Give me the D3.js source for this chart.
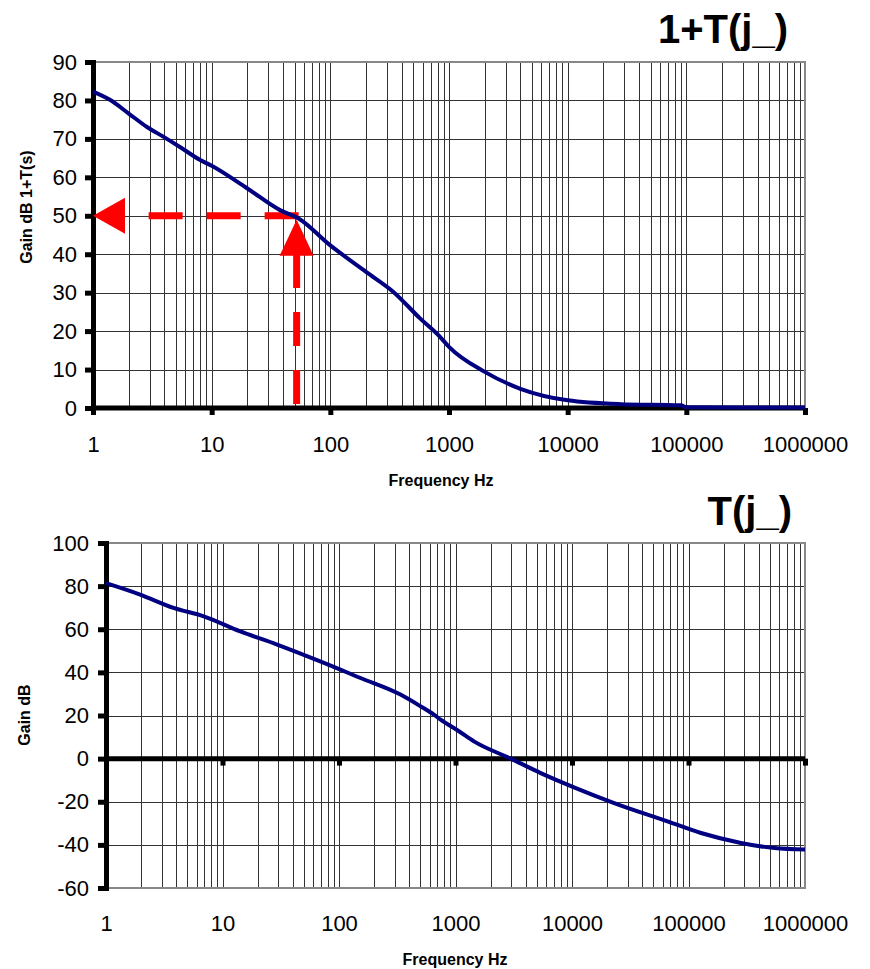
<!DOCTYPE html>
<html>
<head>
<meta charset="utf-8">
<script src="https://cdn.jsdelivr.net/npm/d3@7"></script>
<style>
  body { margin: 0; background: #fff; }
  text { font-family: "Liberation Sans", Arial, sans-serif; }
</style>
</head>
<body>
<svg id="chart" width="870" height="969"></svg>
<script>
"use strict";

// 1+T(s) closed loop gain
var topFreq = [1, 1.4, 2, 2.85, 4, 5.4, 8, 10, 20, 38, 54, 100, 200, 340, 570, 840, 1000, 2000, 4000, 10000, 28000, 90000, 100000, 1000000];
var topGain = [82.3, 80.1, 76.6, 73.1, 70.4, 67.9, 64.5, 63, 57.1, 51.4, 49.3, 42.3, 35.4, 30.2, 23.3, 18.5, 15.9, 9.4, 5.0, 2.0, 1.0, 0.7, 0.2, 0.1];

// T(s) loop gain
var botFreq = [1, 1.96, 3.8, 6.9, 14.2, 29.4, 69, 153, 337, 500, 652, 745, 1070, 1440, 2980, 5390, 10400, 23000, 66000, 128000, 282000, 547000, 1000000];
var botGain = [81.4, 76.1, 69.9, 66.0, 59.0, 52.9, 45.1, 37.4, 29.7, 24.3, 20.4, 18.1, 12.7, 8.0, 0, -6.7, -13.3, -20.6, -29.1, -34.5, -39.1, -41.5, -42.2];

var decades = [1, 10, 100, 1000, 10000, 100000, 1000000];
var decadeLabels = ["1", "10", "100", "1000", "10000", "100000", "1000000"];
var topYTicks = [0, 10, 20, 30, 40, 50, 60, 70, 80, 90];
var botYTicks = [-60, -40, -20, 0, 20, 40, 60, 80, 100];

// marker read on the top chart
var markerFreq = 52;
var markerGain = 50;

var FONT = "'Liberation Sans', Arial, sans-serif";
var svg = d3.select("#chart");

// every 1..9 x 10^n line for the log grid
var minorFreqs = [];
for (var n = 0; n < 6; n++) {
  for (var k = 1; k < 10; k++) {
    minorFreqs.push(k * Math.pow(10, n));
  }
}
minorFreqs.push(1000000);

function drawPanel(opt) {
  var x = d3.scaleLog().domain([1, 1000000]).range([opt.left, opt.right]);
  var y = d3.scaleLinear().domain(opt.yDomain).range([opt.bottom, opt.top]);
  var g = svg.append("g");

  // grid
  g.selectAll("line.vgrid").data(minorFreqs).enter().append("line")
    .attr("class", "vgrid")
    .attr("x1", function (d) { return Math.round(x(d)) + 0.5; })
    .attr("x2", function (d) { return Math.round(x(d)) + 0.5; })
    .attr("y1", opt.top).attr("y2", opt.bottom)
    .style("stroke", "#333").style("stroke-width", 1);
  g.selectAll("line.hgrid").data(opt.yTicks).enter().append("line")
    .attr("class", "hgrid")
    .attr("x1", opt.left).attr("x2", opt.right)
    .attr("y1", function (d) { return Math.round(y(d)) + 0.5; })
    .attr("y2", function (d) { return Math.round(y(d)) + 0.5; })
    .style("stroke", "#333").style("stroke-width", 1);

  // grey frame top / right / bottom
  g.append("path")
    .attr("d", "M" + opt.left + "," + opt.top + "H" + opt.right + "V" + opt.bottom + "H" + opt.left)
    .style("fill", "none").style("stroke", "#888").style("stroke-width", 2);

  // x tick marks on the zero line
  var xTicks = g.append("g")
    .attr("transform", "translate(0," + y(0) + ")")
    .call(d3.axisBottom(x).tickValues(decades).tickSize(7).tickFormat(""));
  xTicks.select(".domain").remove();
  xTicks.selectAll(".tick line").style("stroke", "#000").style("stroke-width", 5);

  // x labels
  var xLab = g.append("g")
    .attr("transform", "translate(0," + opt.xLabelY + ")")
    .call(d3.axisBottom(x).tickValues(decades).tickSize(0).tickPadding(0)
      .tickFormat(function (d, i) { return decadeLabels[i]; }));
  xLab.select(".domain").remove();
  xLab.selectAll("text")
    .attr("dy", 0)
    .style("font-family", FONT)
    .style("font-size", "22px").style("fill", "#000");

  // zero line
  g.append("line")
    .attr("x1", opt.left).attr("x2", opt.right)
    .attr("y1", y(0)).attr("y2", y(0))
    .style("stroke", "#000").style("stroke-width", 5);

  // y axis, hyphen minus like the original
  var yAx = g.append("g")
    .attr("transform", "translate(" + opt.left + ",0)")
    .call(d3.axisLeft(y).tickValues(opt.yTicks).tickSize(8).tickPadding(opt.yPad)
      .tickFormat(function (d) { return String(d); }));
  yAx.select(".domain").style("stroke", "#000").style("stroke-width", 5);
  yAx.selectAll(".tick line").style("stroke", "#000").style("stroke-width", 5);
  yAx.selectAll("text")
    .style("font-family", FONT)
    .style("font-size", "22px").style("fill", "#000");

  // axis titles
  g.append("text")
    .text("Frequency Hz")
    .attr("x", opt.xTitleX).attr("y", opt.xTitleY)
    .attr("text-anchor", "middle")
    .style("font-size", "16px").style("font-weight", 700);
  g.append("text")
    .text(opt.yTitle)
    .attr("transform", "translate(" + opt.yTitleX + "," + opt.yTitleY + ") rotate(-90)")
    .attr("text-anchor", "middle")
    .style("font-size", "16px").style("font-weight", 700);

  // big title
  g.append("text")
    .text(opt.title)
    .attr("x", opt.titleX).attr("y", opt.titleY)
    .attr("text-anchor", "end")
    .style("font-size", "40px").style("font-weight", 700);

  return { g: g, x: x, y: y };
}

function drawCurve(p, freq, gain) {
  var pts = freq.map(function (f, i) { return [f, gain[i]]; });
  var line = d3.line()
    .curve(d3.curveMonotoneX)
    .x(function (d) { return p.x(d[0]); })
    .y(function (d) { return p.y(d[1]); });
  p.g.append("path")
    .datum(pts)
    .attr("d", line)
    .style("fill", "none")
    .style("stroke", "#000080")
    .style("stroke-width", 4)
    .style("stroke-linejoin", "round");
}

var topPanel = drawPanel({
  left: 93, right: 805, top: 62, bottom: 408,
  yDomain: [0, 90], yTicks: topYTicks, yPad: 8,
  xLabelY: 452, xTitleX: 441, xTitleY: 486,
  yTitle: "Gain dB 1+T(s)", yTitleX: 32, yTitleY: 207,
  title: "1+T(j_)", titleX: 788, titleY: 43
});

// red read-off arrows
(function () {
  var mx = topPanel.x(markerFreq);
  var my = topPanel.y(markerGain);
  var x0 = topPanel.x(1);
  var y0 = topPanel.y(0);
  var red = "#ff0000";
  topPanel.g.append("line")
    .attr("x1", mx + 2).attr("x2", x0 + 30)
    .attr("y1", my).attr("y2", my)
    .style("stroke", red).style("stroke-width", 7)
    .style("stroke-dasharray", "34,24");
  topPanel.g.append("path")
    .attr("d", "M" + x0 + "," + my + "L" + (x0 + 32) + "," + (my - 18) + "L" + (x0 + 32) + "," + (my + 18) + "Z")
    .style("fill", red);
  topPanel.g.append("line")
    .attr("x1", mx).attr("x2", mx)
    .attr("y1", y0 - 4).attr("y2", my + 38)
    .style("stroke", red).style("stroke-width", 7)
    .style("stroke-dasharray", "34,24");
  topPanel.g.append("path")
    .attr("d", "M" + mx + "," + (my + 4) + "L" + (mx - 17) + "," + (my + 40) + "L" + (mx + 17) + "," + (my + 40) + "Z")
    .style("fill", red);
})();

drawCurve(topPanel, topFreq, topGain);

var botPanel = drawPanel({
  left: 106, right: 805, top: 543, bottom: 888,
  yDomain: [-60, 100], yTicks: botYTicks, yPad: 9,
  xLabelY: 931, xTitleX: 455, xTitleY: 965,
  yTitle: "Gain dB", yTitleX: 30, yTitleY: 715,
  title: "T(j_)", titleX: 792, titleY: 525
});
drawCurve(botPanel, botFreq, botGain);
</script>
</body>
</html>
